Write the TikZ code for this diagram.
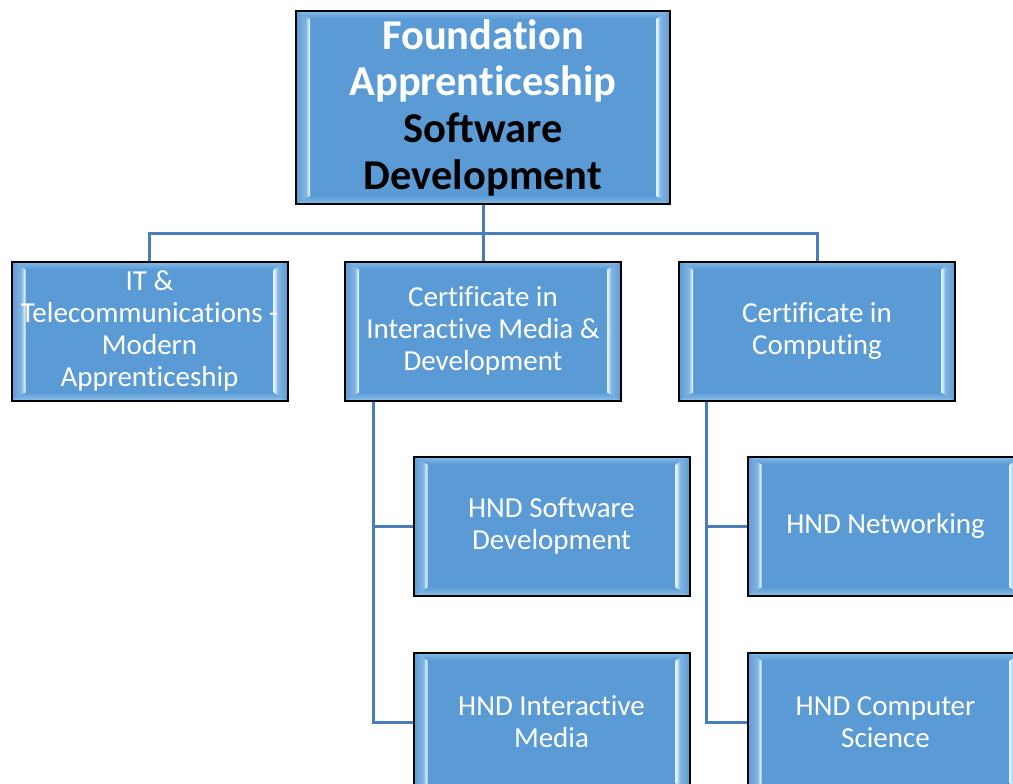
\documentclass[tikz,border=0pt]{standalone}
\usepackage{fontspec}
\setmainfont{Carlito}[Ligatures={NoCommon,NoRequired},Contextuals={NoAlternate}]
\usetikzlibrary{calc}
\definecolor{basec}{HTML}{5B9BD5}
\definecolor{hic}{HTML}{DDF3FF}
\colorlet{midc}{basec!75!white}
\definecolor{linec}{HTML}{4A7EBB}
\definecolor{topc}{HTML}{85BCE8}
\definecolor{botc}{HTML}{8CC0EA}
\pgfdeclarehorizontalshading{bevL}{100bp}{color(0bp)=(basec); color(25bp)=(basec); color(60bp)=(midc); color(72bp)=(hic); color(100bp)=(hic)}
\pgfdeclarehorizontalshading{bevR}{100bp}{color(0bp)=(hic); color(28bp)=(hic); color(40bp)=(midc); color(75bp)=(basec); color(100bp)=(basec)}
\tikzset{
  bevbox/.style={draw=black, line width=2pt, fill=basec, text=white, align=center,
    inner sep=0pt, minimum width=276pt, minimum height=139pt,
    font=\fontsize{29}{32}\selectfont,
    path picture={
      \path (path picture bounding box.north west) coordinate (pnw)
            (path picture bounding box.north east) coordinate (pne)
            (path picture bounding box.south west) coordinate (psw)
            (path picture bounding box.south east) coordinate (pse);
      \shade[top color=topc, bottom color=basec] (pnw) -- (pne) -- ([xshift=-14pt,yshift=-8pt]pne) -- ([xshift=14pt,yshift=-8pt]pnw) -- cycle;
      \shade[top color=basec, bottom color=botc] (psw) -- (pse) -- ([xshift=-14pt,yshift=8pt]pse) -- ([xshift=14pt,yshift=8pt]psw) -- cycle;
      \shade[shading=bevL] (pnw) -- ([xshift=14pt,yshift=-8pt]pnw) -- ([xshift=14pt,yshift=8pt]psw) -- (psw) -- cycle;
      \shade[shading=bevR] (pne) -- ([xshift=-14pt,yshift=-8pt]pne) -- ([xshift=-14pt,yshift=8pt]pse) -- (pse) -- cycle;
    }},
  rootbox/.style={bevbox, minimum width=374pt, minimum height=193pt,
    font=\bfseries\fontsize{42.5}{46.7}\selectfont},
  conn/.style={draw=linec, line width=3pt}
}
\begin{document}
\begin{tikzpicture}[x=1pt,y=-1pt]
\useasboundingbox (0,0) rectangle (1013,784);
\clip (0,0) rectangle (1013,784);
\fill[white] (0,0) rectangle (1013,784);
\node[rootbox] (root) at (483,107.5) {Foundation\\Apprenticeship\\{\color{black}Software}\\{\color{black}Development}};
\node[bevbox] (it) at (149.5,331) {IT \&\\Telecommunications -\\Modern\\Apprenticeship};
\node[bevbox] (imd) at (483,331) {Certificate in\\Interactive Media \&\\Development};
\node[bevbox] (cc) at (817,331) {Certificate in\\Computing};
\node[bevbox] (hsd) at (551.5,526) {HND Software\\Development};
\node[bevbox] (him) at (551.5,722) {HND Interactive\\Media};
\node[bevbox] (hnet) at (885.5,526) {HND Networking};
\node[bevbox] (hcs) at (885.5,722) {HND Computer\\Science};
\coordinate (bus) at ($(root.south)+(0,28)$);
\coordinate (imdtrunk) at ($(imd.south west)+(29,0)$);
\coordinate (cctrunk) at ($(cc.south west)+(28,0)$);
\draw[conn] (root.south) -- (bus) -| (it.north);
\draw[conn] (bus) -| (cc.north);
\draw[conn] (bus) -- (imd.north);
\draw[conn] (imdtrunk) |- (hsd.west);
\draw[conn] (imdtrunk) |- (him.west);
\draw[conn] (cctrunk) |- (hnet.west);
\draw[conn] (cctrunk) |- (hcs.west);
\end{tikzpicture}
\end{document}
